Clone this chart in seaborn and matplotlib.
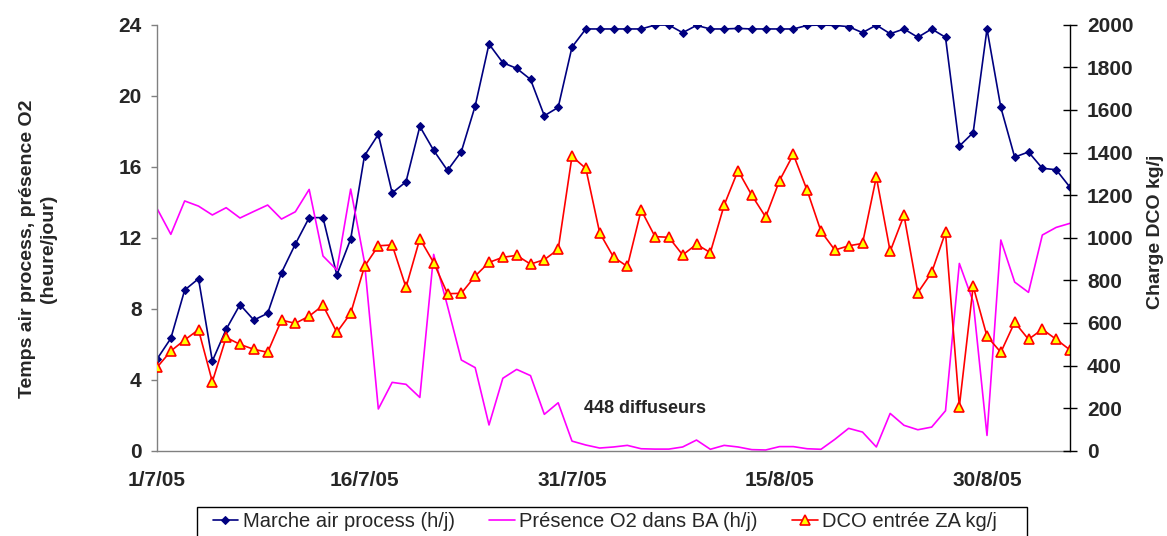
import numpy as np
import pandas as pd
import matplotlib
matplotlib.use("Agg")
import matplotlib.pyplot as plt
from matplotlib.patches import Rectangle
import seaborn as sns

# ---- data ----
start_date = "2005-07-01"
marche_air = [5.16, 6.33, 9.05, 9.69, 5.05, 6.84, 8.23, 7.36, 7.74, 10.03, 11.64, 13.13, 13.13, 9.90,
              11.92, 16.62, 17.82, 14.52, 15.15, 18.27, 16.92, 15.79, 16.85, 19.42, 22.91, 21.86,
              21.54, 20.92, 18.87, 19.34, 22.74, 23.76, 23.76, 23.76, 23.76, 23.76, 23.98, 23.98,
              23.55, 23.96, 23.76, 23.76, 23.79, 23.76, 23.76, 23.76, 23.76, 23.96, 23.98, 23.96,
              23.89, 23.55, 23.98, 23.49, 23.76, 23.29, 23.76, 23.29, 17.16, 17.92, 23.76, 19.34,
              16.54, 16.83, 15.91, 15.83, 14.84]
presence_o2 = [13.65, 12.19, 14.07, 13.78, 13.28, 13.69, 13.11, 13.48, 13.84, 13.05, 13.46, 14.72,
               10.97, 10.18, 14.74, 10.61, 2.35, 3.85, 3.74, 3.00, 11.06, 8.15, 5.11, 4.68, 1.45,
               4.08, 4.58, 4.23, 2.05, 2.70, 0.54, 0.32, 0.15, 0.21, 0.30, 0.11, 0.09, 0.09, 0.21,
               0.60, 0.08, 0.30, 0.21, 0.06, 0.04, 0.23, 0.23, 0.11, 0.08, 0.64, 1.26, 1.05, 0.21,
               2.10, 1.43, 1.18, 1.33, 2.25, 10.55, 8.4, 0.86, 11.87, 9.50, 8.92, 12.15, 12.58, 12.81]
dco_entree = [391, 468, 520, 568, 324, 532, 499, 476, 462, 613, 598, 632, 682, 556, 645, 865, 962,
              966, 767, 995, 883, 737, 739, 820, 884, 908, 917, 876, 897, 945, 1382, 1325, 1023,
              909, 865, 1130, 1005, 1002, 919, 969, 930, 1153, 1315, 1199, 1097, 1268, 1391, 1222,
              1030, 942, 962, 973, 1285, 936, 1105, 742, 837, 1025, 207, 772, 537, 462, 603, 523,
              570, 523, 473]
tick_dates = ["2005-07-01", "2005-07-16", "2005-07-31", "2005-08-15", "2005-08-30"]
tick_labels = ["1/7/05", "16/7/05", "31/7/05", "15/8/05", "30/8/05"]
label_marche = "Marche air process (h/j)"
label_o2 = "Présence O2 dans BA (h/j)"
label_dco = "DCO entrée ZA kg/j"
ylabel_left = "Temps air process, présence O2\n(heure/jour)"
ylabel_right = "Charge DCO kg/j"
annotation = "448 diffuseurs"

dates = pd.date_range(start_date, periods=len(marche_air), freq="D")
df = pd.DataFrame({"date": dates, "marche": marche_air, "o2": presence_o2, "dco": dco_entree})

# ---- style ----
sns.set_style("white")
plt.rcParams["font.family"] = ["Liberation Sans", "DejaVu Sans"]

W, H = 1167, 536
fig = plt.figure(figsize=(W / 100, H / 100), dpi=100)
ax = fig.add_axes([157 / W, 1 - 450.7 / H, (1070 - 157) / W, (450.7 - 24.7) / H])
ax2 = ax.twinx()

sns.lineplot(data=df, x="date", y="marche", ax=ax, color="#000080", lw=1.2,
             marker="D", markersize=4.5, markeredgecolor="#000080", label=label_marche, legend=False)
sns.lineplot(data=df, x="date", y="o2", ax=ax, color="#FF00FF", lw=1.2,
             label=label_o2, legend=False)
sns.lineplot(data=df, x="date", y="dco", ax=ax2, color="#FF0000", lw=1.2,
             marker="^", markersize=7, markerfacecolor="#FFFF00", markeredgecolor="#FF0000",
             markeredgewidth=1.2, label=label_dco, legend=False)

ax.set_xlim(dates[0], dates[-1])
ax.set_ylim(0, 24)
ax2.set_ylim(0, 2000)
ax.set_yticks(np.arange(0, 25, 4))
ax2.set_yticks(np.arange(0, 2001, 200))
ax.set_xticks(pd.to_datetime(tick_dates))
ax.set_xticklabels(tick_labels)

for a in (ax, ax2):
    a.spines["top"].set_visible(False)
ax.spines["right"].set_visible(False)
ax2.spines["left"].set_visible(False)
ax2.spines["bottom"].set_visible(False)
ax.spines["left"].set_color("#808080")
ax.spines["bottom"].set_color("#808080")
ax2.spines["right"].set_color("black")
for s in ("left", "bottom"):
    ax.spines[s].set_linewidth(1.0)
ax2.spines["right"].set_linewidth(1.0)

ax.tick_params(axis="y", direction="out", length=4.1, width=1, color="#808080", labelsize=15, pad=7)
ax.tick_params(axis="x", direction="out", length=4.3, width=1, color="#808080", labelsize=15, pad=10)
ax2.tick_params(axis="y", direction="inout", length=9.6, width=1, color="black", labelsize=15, pad=7.4)
for lab in ax.get_xticklabels() + ax.get_yticklabels() + ax2.get_yticklabels():
    lab.set_fontweight("bold")

ax.set_xlabel("")
ax.set_ylabel("")
ax2.set_ylabel("")
fig.text(38 / W, 1 - 249 / H, ylabel_left, rotation=90, ha="center", va="center",
         fontsize=14, fontweight="bold", multialignment="center", linespacing=1.25)
fig.text(1155 / W, 1 - 232 / H, ylabel_right, rotation=90, ha="center", va="center",
         fontsize=14, fontweight="bold")

ax.text(pd.Timestamp("2005-08-05 06:00"), 2.4, annotation, fontsize=13, fontweight="bold",
        ha="center", va="center")

h1, l1 = ax.get_legend_handles_labels()
h2, l2 = ax2.get_legend_handles_labels()
leg = fig.legend(h1 + h2, l1 + l2, loc="upper left", bbox_to_anchor=(212.7 / W, 1 - 512 / H),
                 ncol=3, frameon=False, fontsize=14.5, borderpad=0, borderaxespad=0,
                 handlelength=1.27, handletextpad=0.23, columnspacing=1.7)
fig.patches.append(Rectangle((197 / W, -0.05), (1027 - 197) / W, 0.05 + 1 - 507.5 / H,
                             transform=fig.transFigure, fill=False, edgecolor="black",
                             linewidth=1.0, figure=fig))

fig.savefig("out.png", dpi=100)
